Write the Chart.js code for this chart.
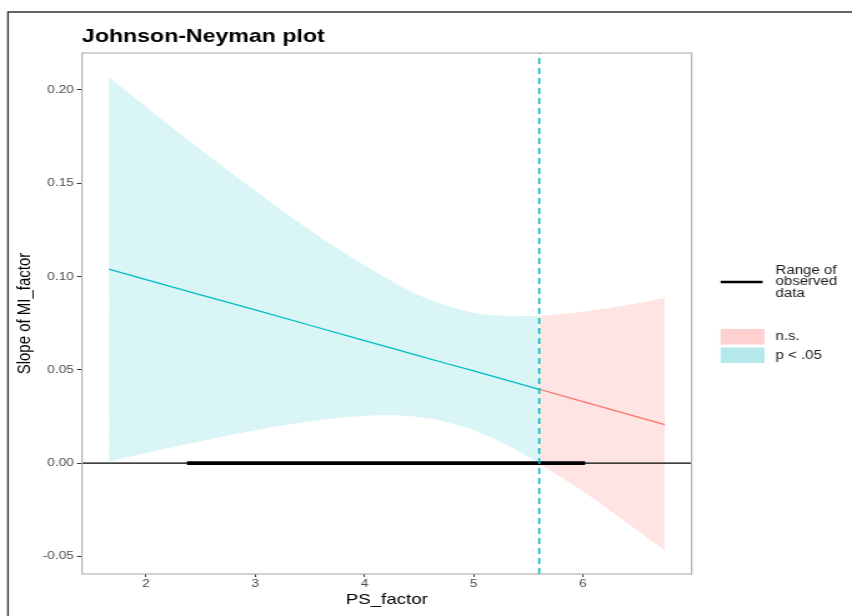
<!DOCTYPE html>
<html>
<head>
<meta charset="utf-8">
<title>Johnson-Neyman plot</title>
<script src="https://cdn.jsdelivr.net/npm/chart.js@4/dist/chart.umd.min.js"></script>
<style>
  html, body { margin: 0; padding: 0; background: #fff; overflow: hidden; }
</style>
</head>
<body>
<!-- drawn 682 wide, then stretched sideways to 852 like the source image -->
<canvas id="jnChart" width="682" height="616" style="display:block;width:852px;height:616px"></canvas>
<script>
/* ========= DATA ========= */

// moderator values (PS_factor) where the slope is significant
const sigX     = [1.66, 2.0, 2.5, 3.0, 3.5, 4.0, 4.25, 4.5, 4.75, 5.0, 5.3, 5.6];
const sigSlope = [0.104, 0.0984, 0.0902, 0.0821, 0.0739, 0.0657, 0.0616, 0.0575, 0.0534, 0.0494, 0.0445, 0.0396];
const sigUpper = [0.207, 0.191, 0.168, 0.146, 0.125, 0.106, 0.0975, 0.090, 0.0845, 0.0805, 0.079, 0.0788];
const sigLower = [0.001, 0.0055, 0.0117, 0.0176, 0.0224, 0.0254, 0.0257, 0.0247, 0.0221, 0.0177, 0.0099, 0.0];

// part that is not significant
const nsX     = [5.6, 6.0, 6.4, 6.75];
const nsSlope = [0.0396, 0.0330, 0.0264, 0.0207];
const nsUpper = [0.0788, 0.0811, 0.0846, 0.0885];
const nsLower = [0.0, -0.0151, -0.0318, -0.0468];

// Johnson-Neyman point and observed range of PS_factor
const jnPoint = 5.6;
const observedRange = [2.375, 6.02];

// axes
const xLimits = [1.414, 6.995];
const yLimits = [-0.0594, 0.2198];
const xTicks = [2, 3, 4, 5, 6];
const yTicks = [-0.05, 0.00, 0.05, 0.10, 0.15, 0.20];

const legendRange = ["Range of", "observed", "data"];
const legendBands = ["n.s.", "p < .05"];

/* ========= HELPERS ========= */

const pts = (xs, ys) => xs.map((x, i) => ({ x: x, y: ys[i] }));

const TEAL = "#00BFC4";
const RED = "#F8766D";
const FONT = '"Liberation Sans", Arial, sans-serif';

/* ========= EXTRA DRAWING: frame, panel border, title, legend ========= */

const decorPlugin = {
  id: "decor",
  beforeDraw(chart) {
    const ctx = chart.ctx;
    ctx.save();
    ctx.fillStyle = "#fff";
    ctx.fillRect(0, 0, chart.width, chart.height);
    ctx.restore();
  },
  afterDraw(chart) {
    const ctx = chart.ctx;
    const a = chart.chartArea;
    ctx.save();

    // outer frame (left + top edges)
    ctx.strokeStyle = "#333";
    ctx.lineWidth = 1.3;
    ctx.beginPath();
    ctx.moveTo(6.4, chart.height);
    ctx.lineTo(6.4, 12);
    ctx.lineTo(chart.width, 12);
    ctx.stroke();

    // panel border
    ctx.strokeStyle = "#b3b3b3";
    ctx.lineWidth = 1.2;
    ctx.strokeRect(a.left, a.top, a.right - a.left, a.bottom - a.top);

    // title
    ctx.fillStyle = "#000";
    ctx.font = "bold 18.5px " + FONT;
    ctx.textAlign = "left";
    ctx.textBaseline = "alphabetic";
    ctx.fillText("Johnson-Neyman plot", a.left, 42);

    // legend: observed range
    ctx.strokeStyle = "#000";
    ctx.lineWidth = 2.6;
    ctx.beginPath();
    ctx.moveTo(576.8, 282);
    ctx.lineTo(610.4, 282);
    ctx.stroke();

    ctx.fillStyle = "#1a1a1a";
    ctx.font = "12px " + FONT;
    ctx.textBaseline = "middle";
    const rangeY = [270.5, 282, 293.5];
    legendRange.forEach((t, i) => ctx.fillText(t, 620.8, rangeY[i]));

    // legend: bands
    ctx.fillStyle = "#ffd0d0";
    ctx.fillRect(576.8, 329, 35.2, 15.5);
    ctx.fillStyle = "#b4e8ea";
    ctx.fillRect(576.8, 347.5, 35.2, 15.5);
    ctx.fillStyle = "#1a1a1a";
    ctx.fillText(legendBands[0], 620.8, 337);
    ctx.fillText(legendBands[1], 620.8, 355.5);

    ctx.restore();
  }
};

/* ========= CHART ========= */

const jnCtx = document.getElementById("jnChart");

new Chart(jnCtx, {
  type: "line",
  data: {
    datasets: [
      {
        label: "p < .05 band",
        data: pts(sigX, sigUpper),
        fill: "+1",
        backgroundColor: "rgba(0, 191, 196, 0.15)",
        borderWidth: 0,
        pointRadius: 0,
        cubicInterpolationMode: "monotone",
        order: 10
      },
      {
        label: "p < .05 lower",
        data: pts(sigX, sigLower),
        fill: false,
        borderWidth: 0,
        pointRadius: 0,
        cubicInterpolationMode: "monotone",
        order: 10
      },
      {
        label: "n.s. band",
        data: pts(nsX, nsUpper),
        fill: "+1",
        backgroundColor: "rgba(248, 118, 109, 0.2)",
        borderWidth: 0,
        pointRadius: 0,
        cubicInterpolationMode: "monotone",
        order: 9
      },
      {
        label: "n.s. lower",
        data: pts(nsX, nsLower),
        fill: false,
        borderWidth: 0,
        pointRadius: 0,
        cubicInterpolationMode: "monotone",
        order: 9
      },
      {
        label: "zero",
        data: pts(xLimits, [0, 0]),
        borderColor: "#000",
        borderWidth: 1.2,
        pointRadius: 0,
        order: 5
      },
      {
        label: "Range of observed data",
        data: pts(observedRange, [0, 0]),
        borderColor: "#000",
        borderWidth: 3.6,
        pointRadius: 0,
        order: 4
      },
      {
        label: "p < .05",
        data: pts(sigX, sigSlope),
        borderColor: TEAL,
        borderWidth: 1.3,
        pointRadius: 0,
        order: 3
      },
      {
        label: "n.s.",
        data: pts(nsX, nsSlope),
        borderColor: RED,
        borderWidth: 1.3,
        pointRadius: 0,
        order: 3
      },
      {
        label: "JN point",
        data: pts([jnPoint, jnPoint], yLimits),
        borderColor: TEAL,
        borderWidth: 1.6,
        borderDash: [6, 4],
        pointRadius: 0,
        order: 1
      }
    ]
  },
  plugins: [decorPlugin],
  options: {
    responsive: false,
    animation: false,
    devicePixelRatio: 1,
    layout: {
      padding: { left: 0, right: 128.4, top: 53, bottom: 0 }
    },
    plugins: {
      legend: { display: false },
      tooltip: { enabled: false }
    },
    scales: {
      x: {
        type: "linear",
        min: xLimits[0],
        max: xLimits[1],
        afterBuildTicks: (s) => { s.ticks = xTicks.map(v => ({ value: v })); },
        afterFit: (s) => { s.height = 42; },
        grid: { drawOnChartArea: false, drawTicks: true, tickLength: 3, color: "#333" },
        border: { display: false },
        ticks: {
          padding: 0,
          color: "#4d4d4d",
          font: { family: FONT, size: 11 },
          maxRotation: 0,
          callback: (v) => String(v)
        },
        title: {
          display: true,
          text: "PS_factor",
          color: "#000",
          font: { family: FONT, size: 15 },
          padding: { top: 0, bottom: 7 }
        }
      },
      y: {
        type: "linear",
        min: yLimits[0],
        max: yLimits[1],
        afterBuildTicks: (s) => { s.ticks = yTicks.map(v => ({ value: v })); },
        afterFit: (s) => { s.width = 65.6; },
        grid: { drawOnChartArea: false, drawTicks: true, tickLength: 4, color: "#333" },
        border: { display: false },
        ticks: {
          padding: 2.4,
          color: "#4d4d4d",
          font: { family: FONT, size: 11 },
          callback: (v) => v.toFixed(2)
        },
        title: {
          display: true,
          text: "Slope of MI_factor",
          color: "#000",
          font: { family: FONT, size: 15 },
          padding: { top: 11, bottom: 0 }
        }
      }
    }
  }
});
</script>
</body>
</html>
